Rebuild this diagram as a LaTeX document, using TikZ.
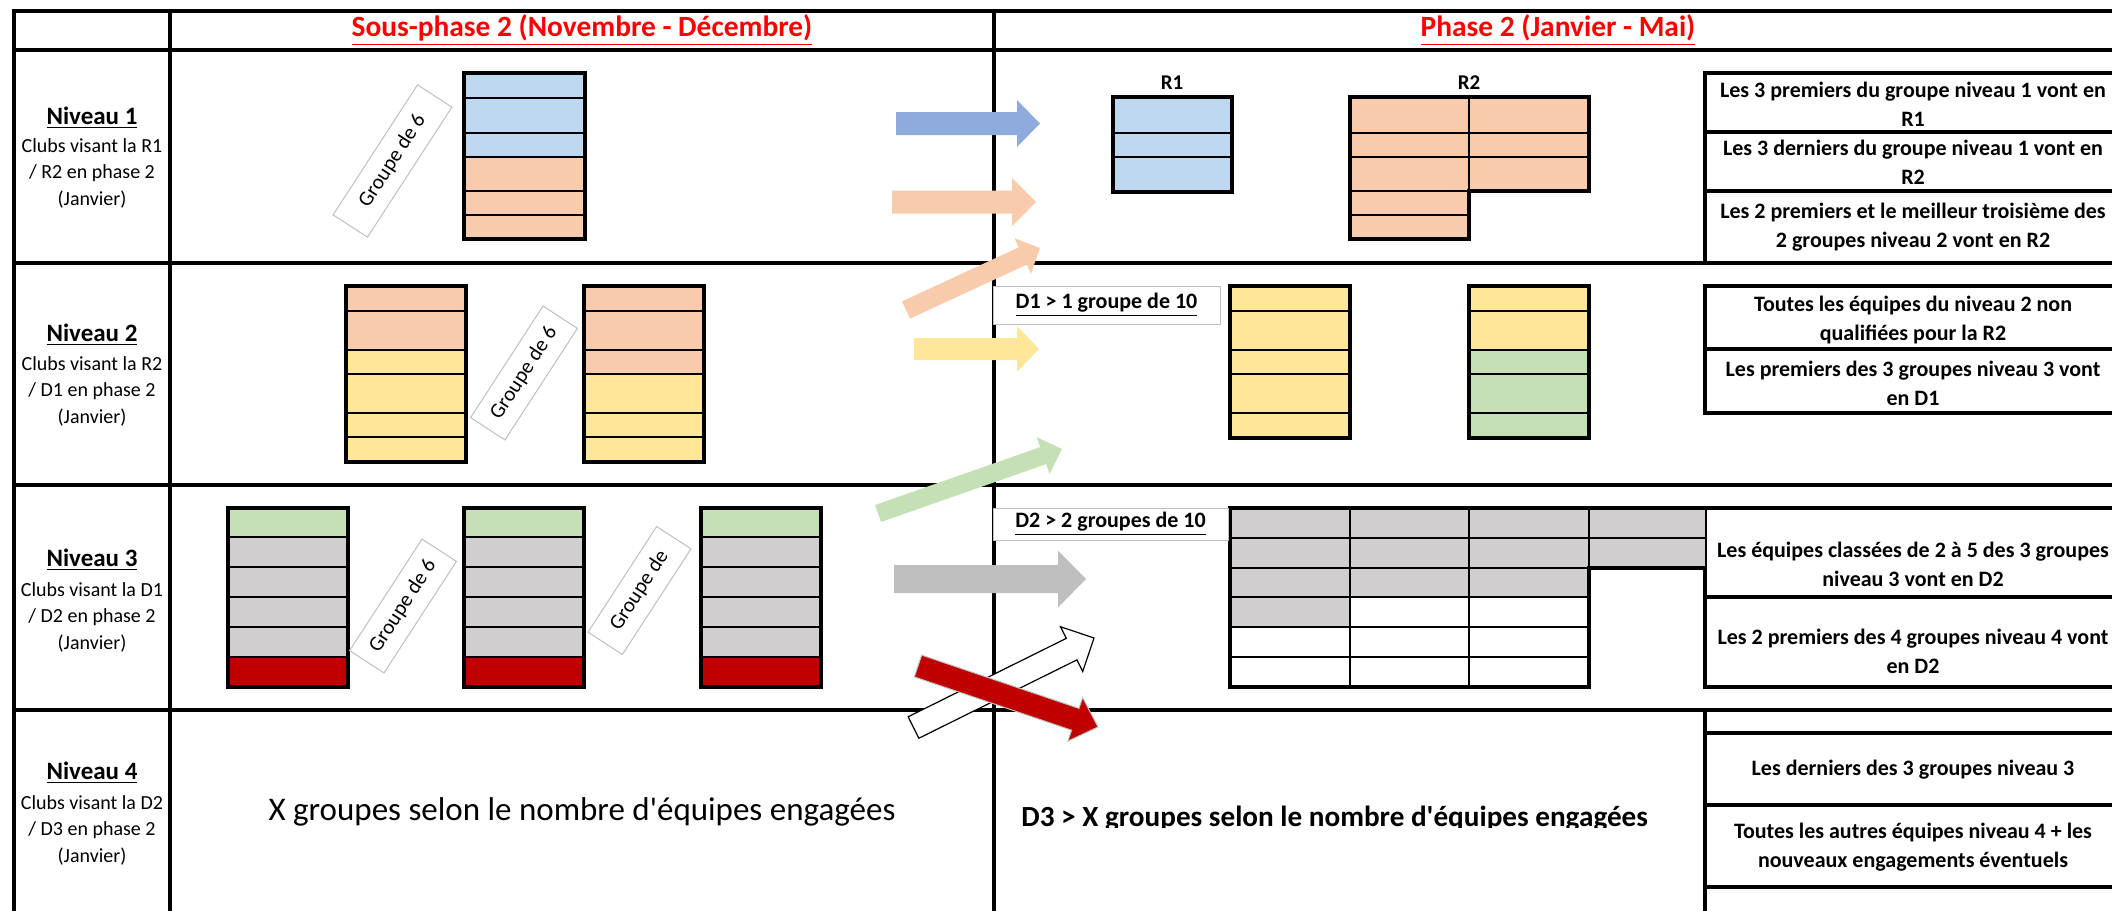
\documentclass[tikz,border=0pt]{standalone}
\usepackage{fontspec}
\setmainfont{Carlito}[Ligatures=TeXOff]
\usepackage{xcolor}
\usepackage{tikz}
\usetikzlibrary{calc,positioning}

\definecolor{cellblue}{HTML}{BDD7EE}
\definecolor{cellorange}{HTML}{F8CBAD}
\definecolor{cellyellow}{HTML}{FFE699}
\definecolor{cellgreen}{HTML}{C5E0B4}
\definecolor{cellgray}{HTML}{D0CECE}
\definecolor{cellred}{HTML}{C00000}
\definecolor{arrowblue}{HTML}{8FAADC}
\definecolor{arrowgray}{HTML}{BFBFBF}
\definecolor{boxgray}{HTML}{BFBFBF}
\definecolor{titlered}{HTML}{FF0000}

\tikzstyle{tableline} = [line width=1.75pt, line cap=rect]
\tikzstyle{cellline} = [line width=1pt]
\tikzstyle{groupbox} = [draw=boxgray, fill=white, line width=0.5pt, minimum height=20.5pt, inner sep=0pt, font=\fontsize{10.5}{12}\selectfont]
\tikzstyle{tagbox} = [draw=boxgray, fill=white, line width=0.5pt, inner sep=0pt, font=\bfseries\fontsize{11}{13}\selectfont]
\tikzstyle{phasetitle} = [text=titlered, font=\bfseries\fontsize{14.7}{17}\selectfont]
\tikzstyle{levelname} = [font=\bfseries\fontsize{12.5}{14}\selectfont]
\tikzstyle{leveltext} = [align=center, font=\fontsize{10}{13.25}\selectfont]
\tikzstyle{infotext} = [align=center, font=\bfseries\fontsize{11}{14.5}\selectfont]
\tikzstyle{grouplabel} = [font=\bfseries\fontsize{10.5}{12}\selectfont]

% block arrow: style, tail, tip, half shaft, half head, head length
\newcommand{\blockarrow}[6]{%
  \coordinate (headbase) at ($(#3)!#6!(#2)$);
  \filldraw[#1] ($(#2)!#4!90:(#3)$) -- ($(headbase)!#4!90:(#3)$) -- ($(headbase)!#5!90:(#3)$) -- (#3)
    -- ($(headbase)!#5!-90:(#3)$) -- ($(headbase)!#4!-90:(#3)$) -- ($(#2)!#4!-90:(#3)$) -- cycle;
}

\begin{document}
\begin{tikzpicture}[x=0.5pt, y=-0.5pt]
        \useasboundingbox (0,0) rectangle (2112,910);
        \clip (0,0) rectangle (2112,910);

        % Table frame
        \foreach \y in {11,50,263,485,710}
            \draw[tableline] (14,\y) -- (2130,\y);
        \foreach \x in {14,170,994}
            \draw[tableline] (\x,11) -- (\x,920);

        % Column titles
        \node[phasetitle] (sous_phase) at (582,30) {\underline{Sous-phase 2 (Novembre - Décembre)}};
        \node[phasetitle] (phase_two) at (1558,30) {\underline{Phase 2 (Janvier - Mai)}};

        % Level labels
        \node[levelname] (niv1) at (92,118) {\underline{Niveau 1}};
        \node[leveltext] (niv1_text) at (92,173) {Clubs visant la R1\\/ R2 en phase 2\\(Janvier)};
        \node[levelname] (niv2) at (92,335) {\underline{Niveau 2}};
        \node[leveltext] (niv2_text) at (92,391) {Clubs visant la R2\\/ D1 en phase 2\\(Janvier)};
        \node[levelname] (niv3) at (92,560) {\underline{Niveau 3}};
        \node[leveltext] (niv3_text) at (92,617) {Clubs visant la D1\\/ D2 en phase 2\\(Janvier)};
        \node[levelname] (niv4) at (92,773) {\underline{Niveau 4}};
        \node[leveltext] (niv4_text) at (92,830) {Clubs visant la D2\\/ D3 en phase 2\\(Janvier)};

        % Info boxes on the right
        \foreach \y in {73,132,191,286,349,413,508,597,687,733,805,887}
            \draw[tableline] (1705,\y) -- (2130,\y);
        \draw[tableline] (1705,73) -- (1705,263);
        \draw[tableline] (1705,286) -- (1705,413);
        \draw[tableline] (1705,508) -- (1705,687);
        \draw[tableline] (1705,710) -- (1705,920);

        \node[infotext] (info_r1) at (1913,104) {Les 3 premiers du groupe niveau 1 vont en\\R1};
        \node[infotext] (info_r2a) at (1913,162) {Les 3 derniers du groupe niveau 1 vont en\\R2};
        \node[infotext] (info_r2b) at (1913,227) {Les 2 premiers et le meilleur troisième des\\2 groupes niveau 2 vont en R2};
        \node[infotext] (info_d1a) at (1913,320) {Toutes les équipes du niveau 2 non\\qualifiées pour la R2};
        \node[infotext] (info_d1b) at (1913,383) {Les premiers des 3 groupes niveau 3 vont\\en D1};
        \node[infotext] (info_d2a) at (1913,564) {Les équipes classées de 2 à 5 des 3 groupes\\niveau 3 vont en D2};
        \node[infotext] (info_d2b) at (1913,651) {Les 2 premiers des 4 groupes niveau 4 vont\\en D2};
        \node[infotext] (info_d3a) at (1913,770) {Les derniers des 3 groupes niveau 3};
        \node[infotext] (info_d3b) at (1913,847) {Toutes les autres équipes niveau 4 + les\\nouveaux engagements éventuels};

        % Niveau 1: one group, then R1 and R2
        \fill[cellblue] (464,73) rectangle (585,157);
        \fill[cellorange] (464,157) rectangle (585,239);
        \foreach \y in {98,133,157,191,215}
            \draw[cellline] (464,\y) -- (585,\y);
        \draw[tableline] (464,73) rectangle (585,239);

        \node[grouplabel] (r1_title) at (1172,83) {R1};
        \fill[cellblue] (1113,97) rectangle (1232,192);
        \foreach \y in {133,157}
            \draw[cellline] (1113,\y) -- (1232,\y);
        \draw[tableline] (1113,97) rectangle (1232,192);

        \node[grouplabel] (r2_title) at (1469,83) {R2};
        \fill[cellorange] (1350,97) -- (1589,97) -- (1589,191) -- (1469,191) -- (1469,239) -- (1350,239) -- cycle;
        \foreach \y in {133,157}
            \draw[cellline] (1350,\y) -- (1589,\y);
        \foreach \y in {191,215}
            \draw[cellline] (1350,\y) -- (1469,\y);
        \draw[cellline] (1469,97) -- (1469,191);
        \draw[tableline] (1350,97) -- (1589,97) -- (1589,191) -- (1469,191) -- (1469,239) -- (1350,239) -- cycle;

        % Niveau 2: two groups, then D1
        \fill[cellorange] (346,286) rectangle (466,350);
        \fill[cellyellow] (346,350) rectangle (466,462);
        \fill[cellorange] (584,286) rectangle (704,374);
        \fill[cellyellow] (584,374) rectangle (704,462);
        \foreach \x in {346,584} {
            \foreach \y in {311,350,374,413,437}
                \draw[cellline] (\x,\y) -- ++(120,0);
            \draw[tableline] (\x,286) rectangle ++(120,176);
        }

        \fill[cellyellow] (1230,286) rectangle (1350,438);
        \fill[cellyellow] (1469,286) rectangle (1589,350);
        \fill[cellgreen] (1469,350) rectangle (1589,438);
        \foreach \x in {1230,1469} {
            \foreach \y in {311,350,374,413}
                \draw[cellline] (\x,\y) -- ++(120,0);
            \draw[tableline] (\x,286) rectangle ++(120,152);
        }
        \node[tagbox, minimum width=113.5pt, minimum height=19pt] (d1_tag) at (1106.5,305) {\underline{D1 > 1 groupe de 10}};

        % Niveau 3: three groups, then D2
        \foreach \x in {228,464,701} {
            \fill[cellgreen] (\x,508) rectangle ++(120,29);
            \fill[cellgray] (\x,537) rectangle ++(120,120);
            \fill[cellred] (\x,657) rectangle ++(120,30);
            \foreach \y in {537,567,597,627,657}
                \draw[cellline] (\x,\y) -- ++(120,0);
            \draw[tableline] (\x,508) rectangle ++(120,179);
        }

        \fill[cellgray] (1230,508) rectangle (1350,627);
        \fill[cellgray] (1350,508) rectangle (1589,597);
        \fill[cellgray] (1589,508) rectangle (1705,568);
        \foreach \y in {538,568}
            \draw[cellline] (1230,\y) -- (1705,\y);
        \foreach \y in {597,627,657}
            \draw[cellline] (1230,\y) -- (1589,\y);
        \foreach \x in {1350,1469,1589}
            \draw[cellline] (\x,508) -- (\x,687);
        \draw[tableline] (1589,568) -- (1705,568);
        \draw[tableline] (1705,508) -- (1230,508) -- (1230,687) -- (1589,687) -- (1589,568);
        \node[tagbox, minimum width=117.5pt, minimum height=16pt] (d2_tag) at (1110.5,524) {\underline{D2 > 2 groupes de 10}};

        % Niveau 4
        \node[font=\fontsize{16.5}{19}\selectfont] (x_groups) at (582,812) {X groupes selon le nombre d'équipes engagées};
        \begin{scope}
            \clip (996,712) rectangle (1703,827);
            \node[anchor=base west, inner sep=0pt, font=\bfseries\fontsize{14.6}{17}\selectfont] (d3_groups) at (1021,826) {D3 > X groupes selon le nombre d'équipes engagées};
        \end{scope}

        % Group size labels
        \node[groupbox, rotate=57, minimum width=77.5pt] (grp1_label) at (392.5,161) {Groupe de 6};
        \node[groupbox, rotate=57, minimum width=66.5pt] (grp2_label) at (524,373) {Groupe de 6};
        \node[groupbox, rotate=57, minimum width=66.5pt] (grp3a_label) at (403,606) {Groupe de 6};
        \node[groupbox, rotate=57, minimum width=63pt] (grp3b_label) at (639.5,590.5) {Groupe de};

        % Arrows from sous-phase 2 to phase 2
        \coordinate (blue_tail) at (896,123.5);
        \coordinate (blue_tip) at (1040,123.5);
        \coordinate (orange_tail) at (892,202);
        \coordinate (orange_tip) at (1036,202);
        \coordinate (orange_up_tail) at (906,310);
        \coordinate (orange_up_tip) at (1040,248);
        \coordinate (yellow_tail) at (914,349);
        \coordinate (yellow_tip) at (1039,349);
        \coordinate (green_tail) at (878,513.5);
        \coordinate (green_tip) at (1062,449);
        \coordinate (gray_tail) at (894,579);
        \coordinate (gray_tip) at (1086,579);
        \coordinate (white_tail) at (913.5,727.5);
        \coordinate (white_tip) at (1094,638);
        \coordinate (red_tail) at (918,666);
        \coordinate (red_tip) at (1098,727);

        \blockarrow{fill=arrowblue, draw=none}{blue_tail}{blue_tip}{5.75pt}{11.75pt}{11.5pt}
        \blockarrow{fill=cellorange, draw=none}{orange_tail}{orange_tip}{5.75pt}{12pt}{12pt}
        \blockarrow{fill=cellorange, draw=none}{orange_up_tail}{orange_up_tip}{4.75pt}{9.75pt}{9.5pt}
        \blockarrow{fill=cellyellow, draw=none}{yellow_tail}{yellow_tip}{5.5pt}{11.5pt}{11pt}
        \blockarrow{fill=cellgreen, draw=none}{green_tail}{green_tip}{4.5pt}{9.75pt}{10pt}
        \blockarrow{fill=arrowgray, draw=none}{gray_tail}{gray_tip}{7pt}{14.25pt}{14pt}
        \blockarrow{fill=white, draw=black, line width=0.6pt}{white_tail}{white_tip}{6pt}{12.5pt}{12.5pt}
        \blockarrow{fill=cellred, draw=boxgray, line width=0.5pt}{red_tail}{red_tip}{5.75pt}{11.5pt}{12pt}
    \end{tikzpicture}
\end{document}
